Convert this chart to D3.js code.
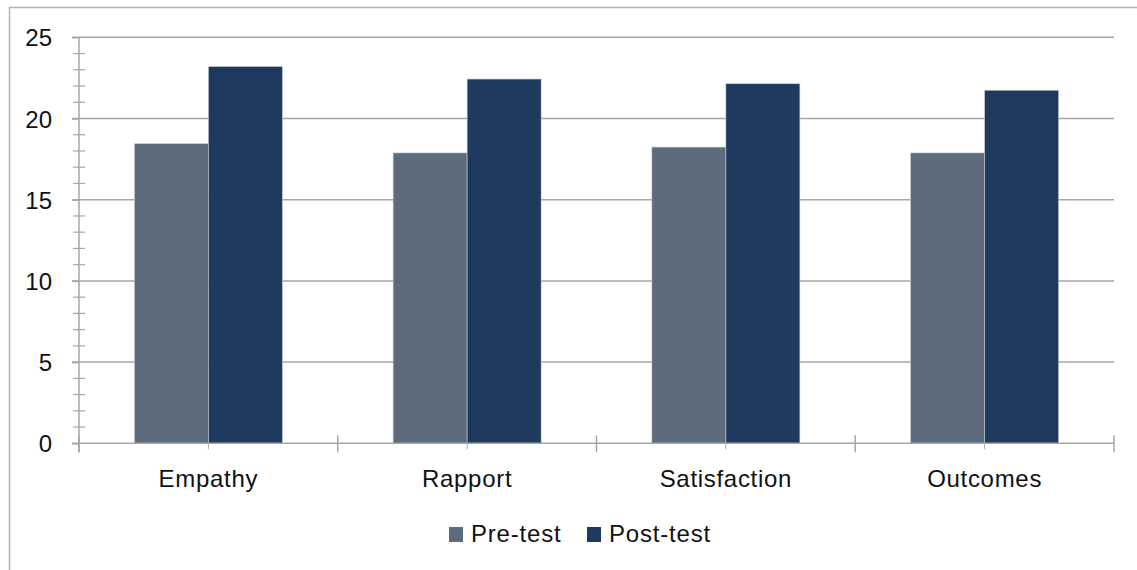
<!DOCTYPE html>
<html>
<head>
<meta charset="utf-8">
<script src="https://cdn.jsdelivr.net/npm/d3@7/dist/d3.min.js"></script>
<style>
  html, body { margin: 0; padding: 0; background: #fff; }
  svg { display: block; }
  text { font-family: "Liberation Sans", Arial, sans-serif; fill: #111; }
</style>
</head>
<body>
<svg id="chart" width="1137" height="570"></svg>
<script>
// Mean scores before and after the training
const categories = ["Empathy", "Rapport", "Satisfaction", "Outcomes"];
const seriesNames = ["Pre-test", "Post-test"];
const preTest = [18.45, 17.88, 18.24, 17.88];
const postTest = [23.2, 22.43, 22.14, 21.74];
const yTicks = [0, 5, 10, 15, 20, 25];
const colors = ["#5e6b7c", "#1f3a5f"];

const svg = d3.select("#chart");
const W = 1137, H = 570;
const m = { left: 79, right: 1114, top: 37.3, bottom: 443.3 };

// outer frame
svg.append("path")
  .attr("d", `M9.5,${H} V7.5 H${W}`)
  .attr("fill", "none").attr("stroke", "#b3b3b3").attr("stroke-width", 1.5);

const x = d3.scaleBand().domain(categories).range([m.left, m.right]).paddingInner(0).paddingOuter(0);
const inner = d3.scaleBand().domain(seriesNames).range([0, x.bandwidth()]).paddingInner(0).paddingOuter(0.748);
const y = d3.scaleLinear().domain([0, 25]).range([m.bottom, m.top]);

// horizontal gridlines
svg.append("g").selectAll("line").data(yTicks.filter(d => d > 0)).join("line")
  .attr("x1", m.left - 7).attr("x2", m.right)
  .attr("y1", d => y(d)).attr("y2", d => y(d))
  .attr("stroke", "#a6a6a6").attr("stroke-width", 1.5);

// minor ticks on the value axis
const minor = d3.range(0, 26).filter(d => d % 5 !== 0);
svg.append("g").selectAll("line").data(minor).join("line")
  .attr("x1", m.left - 6).attr("x2", m.left + 6)
  .attr("y1", d => y(d)).attr("y2", d => y(d))
  .attr("stroke", "#a6a6a6").attr("stroke-width", 1.2);

// bars
const rows = categories.map((c, i) => ({ cat: c, vals: [preTest[i], postTest[i]] }));
const groups = svg.append("g").selectAll("g").data(rows).join("g")
  .attr("transform", d => `translate(${x(d.cat)},0)`);
groups.selectAll("rect").data(d => d.vals.map((v, j) => ({ v, s: seriesNames[j], j }))).join("rect")
  .attr("x", d => inner(d.s))
  .attr("width", inner.bandwidth())
  .attr("y", d => y(d.v))
  .attr("height", d => y(0) - y(d.v))
  .attr("fill", d => colors[d.j])
  .attr("stroke", "#c8ccd2").attr("stroke-width", 0.6);

// value axis
const yAxis = d3.axisLeft(y).tickValues(yTicks).tickSize(7).tickPadding(20).tickFormat(d3.format("d"));
const ya = svg.append("g").attr("transform", `translate(${m.left},0)`).call(yAxis);
ya.select(".domain").attr("stroke", "#a6a6a6").attr("stroke-width", 1.5).attr("d", `M0,${m.top}V${m.bottom + 9}`);
ya.selectAll(".tick line").attr("stroke", "#a6a6a6").attr("stroke-width", 1.5);
ya.selectAll(".tick text").style("font-size", "24px").style("font-family", "Liberation Sans, Arial, sans-serif").attr("fill", "#111").attr("dy", "0.36em");

// category axis
const xAxis = d3.axisBottom(x).tickSize(0).tickPadding(0);
const xa = svg.append("g").attr("transform", `translate(0,${m.bottom})`).call(xAxis);
xa.select(".domain").attr("stroke", "#a6a6a6").attr("stroke-width", 1.5).attr("d", `M${m.left - 7},0H${m.right}`);
xa.selectAll(".tick text").style("font-size", "24px").style("letter-spacing", "0.7px")
  .style("font-family", "Liberation Sans, Arial, sans-serif").attr("fill", "#111")
  .attr("y", 43.5).attr("dy", 0);
// short marks at category centres
xa.selectAll(".tick").append("line")
  .attr("y1", 0).attr("y2", 6).attr("stroke", "#b0b0b0").attr("stroke-width", 1);
// boundary ticks between categories
const bounds = categories.map(c => x(c)).concat([m.right]);
xa.append("g").selectAll("line").data(bounds).join("line")
  .attr("x1", d => d).attr("x2", d => d).attr("y1", -8).attr("y2", 9)
  .attr("stroke", "#a6a6a6").attr("stroke-width", 1.5);

// legend
const legendX = [449, 587];
const lg = svg.append("g").selectAll("g").data(seriesNames).join("g")
  .attr("transform", (d, i) => `translate(${legendX[i]},527)`);
lg.append("rect").attr("width", 14).attr("height", 15).attr("fill", (d, i) => colors[i]);
lg.append("text").attr("x", 22).attr("y", 15).text(d => d)
  .style("font-size", "24px").style("letter-spacing", "0.8px");
</script>
</body>
</html>
